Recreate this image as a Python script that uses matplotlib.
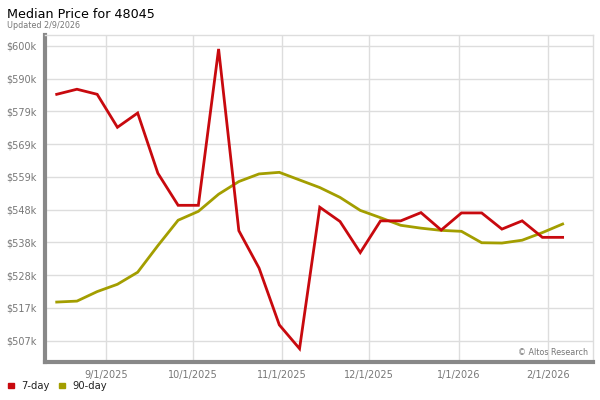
import datetime
import numpy as np
import matplotlib
matplotlib.use("Agg")
import matplotlib.pyplot as plt
import matplotlib.dates as mdates

# weekly points, Fridays from 8/15/2025
start = datetime.date(2025, 8, 15)
dates = [start + datetime.timedelta(days=7 * i) for i in range(26)]

# median price in $k
day7 = [584.7, 586.3, 584.7, 574.3, 578.8, 559.8, 549.7, 549.7, 599.0, 541.7,
        529.9, 512.0, 504.5, 549.1, 544.6, 534.8, 544.8, 544.8, 547.4, 541.9,
        547.3, 547.3, 542.2, 544.8, 539.6, 539.6]
day90 = [519.2, 519.5, 522.5, 524.8, 528.6, 537.0, 545.0, 547.8, 553.2, 557.2,
         559.6, 560.1, 557.7, 555.3, 552.2, 548.1, 545.8, 543.4, 542.5, 541.8,
         541.5, 537.9, 537.8, 538.7, 541.1, 543.8]

month_ticks = [datetime.date(2025, 9, 1), datetime.date(2025, 10, 1),
               datetime.date(2025, 11, 1), datetime.date(2025, 12, 1),
               datetime.date(2026, 1, 1), datetime.date(2026, 2, 1)]
y_ticks = [600 - 10.333 * i for i in range(10)]

red = '#c8090e'
olive = '#a39e00'
gray = '#777777'

fig = plt.figure(figsize=(6, 4), dpi=100)
ax = fig.add_axes([0.075, 0.095, 0.9133, 0.8175])

ax.plot(dates, day7, color=red, lw=2.0, solid_joinstyle='miter', zorder=3)
ax.plot(dates, day90, color=olive, lw=2.0, solid_joinstyle='miter', zorder=2)

x0 = mdates.date2num(dates[0])
x1 = mdates.date2num(dates[-1])
ax.set_xlim(x0 - 4.05, x1 + 10.5)
ax.set_ylim(500.3, 603.4)

ax.set_xticks(month_ticks)
ax.set_xticklabels([f"{d.month}/{d.day}/{d.year}" for d in month_ticks])
ax.set_yticks(y_ticks)
ax.set_yticklabels([f"${round(v)}k" for v in y_ticks])
ax.tick_params(length=0, labelsize=7, colors=gray, pad=5.5)
ax.tick_params(axis='y', pad=6)

ax.grid(True, color='#dddddd', lw=1)
ax.set_axisbelow(True)
for s in ['top', 'right']:
    ax.spines[s].set_color('#dddddd')
    ax.spines[s].set_linewidth(1)
for s in ['left', 'bottom']:
    ax.spines[s].set_color('#888888')
    ax.spines[s].set_linewidth(3)

ax.text(0.991, 0.03, '© Altos Research', transform=ax.transAxes, ha='right',
        va='center', fontsize=5.8, color=gray)

fig.text(0.012, 0.964, 'Median Price for 48045', fontsize=9.2, va='center')
fig.text(0.012, 0.937, 'Updated 2/9/2026', fontsize=5.8, color=gray, va='center')

# legend
fig.patches.append(plt.Rectangle((0.014, 0.029), 0.0095, 0.014, transform=fig.transFigure, color=red))
fig.text(0.036, 0.035, '7-day', fontsize=7.2, va='center', color='#222222')
fig.patches.append(plt.Rectangle((0.098, 0.029), 0.0095, 0.014, transform=fig.transFigure, color=olive))
fig.text(0.121, 0.035, '90-day', fontsize=7.2, va='center', color='#222222')

fig.savefig('out.png', dpi=100)
